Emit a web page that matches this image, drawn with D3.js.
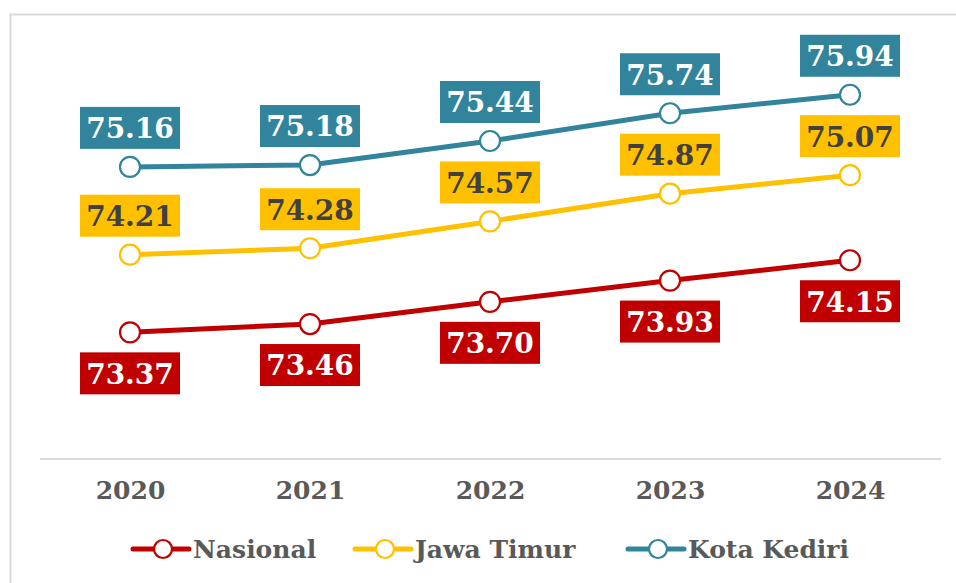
<!DOCTYPE html>
<html>
<head>
<meta charset="utf-8">
<script src="https://cdn.jsdelivr.net/npm/d3@7"></script>
<style>
  body { margin: 0; background: #fff; }
  text { font-family: "DejaVu Serif", serif; font-weight: bold; }
</style>
</head>
<body>
<div id="chart"></div>
<script>
// data
var years = ["2020", "2021", "2022", "2023", "2024"];
var nasional = [73.37, 73.46, 73.70, 73.93, 74.15];
var jawaTimur = [74.21, 74.28, 74.57, 74.87, 75.07];
var kotaKediri = [75.16, 75.18, 75.44, 75.74, 75.94];
var seriesNames = ["Nasional", "Jawa Timur", "Kota Kediri"];

var W = 956, H = 583;

var series = [
  { name: seriesNames[0], values: nasional, color: "#C00000", textColor: "#ffffff", below: true },
  { name: seriesNames[1], values: jawaTimur, color: "#FFC000", textColor: "#404040", below: false },
  { name: seriesNames[2], values: kotaKediri, color: "#31849B", textColor: "#ffffff", below: false }
];

var svg = d3.select("#chart").append("svg")
  .attr("width", W)
  .attr("height", H);

// outer frame
svg.append("rect")
  .attr("x", 10.5).attr("y", 14.5)
  .attr("width", W + 20).attr("height", H + 20)
  .attr("fill", "#fff")
  .attr("stroke", "#d9d9d9")
  .attr("stroke-width", 2);

// scales
var x = d3.scalePoint().domain(years).range([130, 850]);
var y = d3.scaleLinear().domain([72, 76.5]).range([459, 43]);

// x axis
var xAxis = svg.append("g")
  .attr("transform", "translate(0,459)")
  .call(d3.axisBottom(x).tickSize(0).tickPadding(22));
xAxis.select(".domain").remove();
xAxis.append("line")
  .attr("x1", 40).attr("x2", 941)
  .attr("stroke", "#d9d9d9").attr("stroke-width", 2);
xAxis.selectAll(".tick text")
  .attr("fill", "#595959")
  .style("font-size", "25px")
  .style("font-family", "DejaVu Serif")
  .style("font-weight", "bold");

var line = d3.line()
  .x(function (d, i) { return x(years[i]); })
  .y(function (d) { return y(d); });

// lines
series.forEach(function (s) {
  svg.append("path")
    .datum(s.values)
    .attr("d", line)
    .attr("fill", "none")
    .attr("stroke", s.color)
    .attr("stroke-width", 5);
});

// markers
series.forEach(function (s) {
  svg.selectAll(null)
    .data(s.values)
    .enter()
    .append("circle")
    .attr("cx", function (d, i) { return x(years[i]); })
    .attr("cy", function (d) { return y(d); })
    .attr("r", 10)
    .attr("fill", "#fff")
    .attr("stroke", s.color)
    .attr("stroke-width", 2.2);
});

// data labels
var boxW = 100, boxH = 42;
series.forEach(function (s) {
  var g = svg.selectAll(null)
    .data(s.values)
    .enter()
    .append("g")
    .attr("transform", function (d, i) {
      var cy = y(d);
      var top = s.below ? cy + 20 : cy - 18 - boxH;
      return "translate(" + x(years[i]) + "," + top + ")";
    });
  g.append("rect")
    .attr("x", -boxW / 2)
    .attr("width", boxW)
    .attr("height", boxH)
    .attr("fill", s.color);
  g.append("text")
    .attr("y", boxH / 2)
    .attr("dy", "0.37em")
    .attr("text-anchor", "middle")
    .attr("fill", s.textColor)
    .style("font-size", "28px")
    .text(function (d) { return d.toFixed(2); });
});

// legend
var legendX = [133, 355, 628];
var legend = svg.selectAll(".legend")
  .data(series)
  .enter()
  .append("g")
  .attr("class", "legend")
  .attr("transform", function (d, i) { return "translate(" + legendX[i] + ",549)"; });
legend.append("line")
  .attr("x1", 0).attr("x2", 56)
  .attr("stroke", function (d) { return d.color; })
  .attr("stroke-width", 5)
  .attr("stroke-linecap", "round");
legend.append("circle")
  .attr("cx", 30).attr("r", 9)
  .attr("fill", "#fff")
  .attr("stroke", function (d) { return d.color; })
  .attr("stroke-width", 2.2);
legend.append("text")
  .attr("x", 60)
  .attr("dy", "0.36em")
  .attr("fill", "#595959")
  .style("font-size", "25px")
  .text(function (d) { return d.name; });
</script>
</body>
</html>
